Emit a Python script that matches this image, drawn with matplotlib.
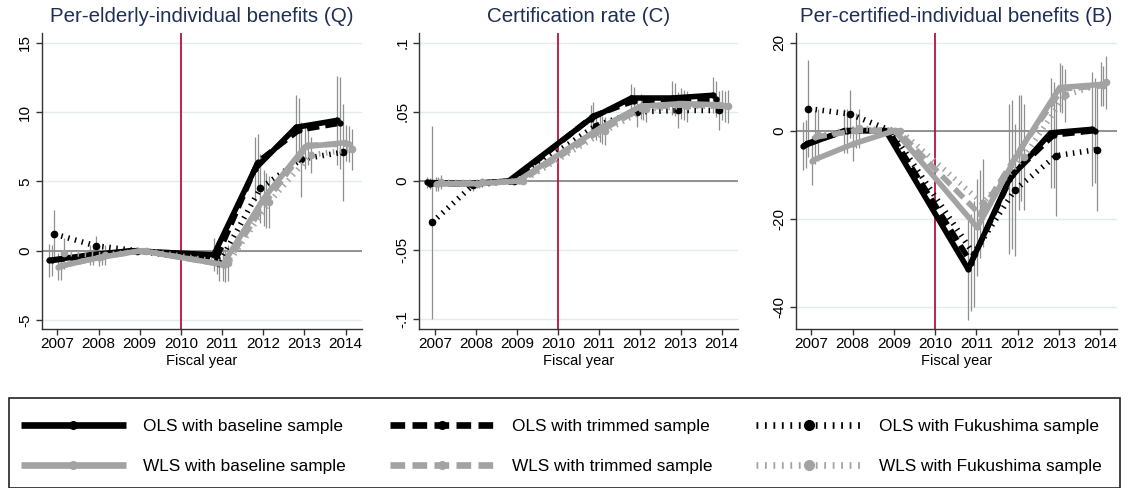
import matplotlib
matplotlib.use("Agg")
import matplotlib.pyplot as plt
from matplotlib.lines import Line2D
from matplotlib.patches import Rectangle

plt.rcParams['font.family'] = ['Liberation Sans', 'DejaVu Sans']

years = [2007, 2008, 2009, 2011, 2012, 2013, 2014]

# Per-elderly-individual benefits (Q): point estimates and 95% CI half-widths
q_ols_base = [-0.7, -0.3, 0, -0.3, 5.9, 8.9, 9.4]
q_ols_trim = [-0.7, -0.35, 0, -0.5, 6.4, 8.7, 9.2]
q_ols_fuku = [1.2, 0.35, 0, -0.9, 4.5, 6.6, 7.1]
q_wls_base = [-1.15, -0.5, 0, -1.0, 3.8, 7.5, 7.8]
q_wls_trim = [-1.1, -0.45, 0, -1.05, 3.6, 7.6, 7.7]
q_wls_fuku = [-0.2, -0.3, 0, -0.9, 3.5, 6.9, 7.3]
q_ols_base_ci = [1.2, 0.7, 0, 1.2, 2.3, 2.3, 3.2]
q_ols_trim_ci = [1.1, 0.7, 0, 1.2, 2.0, 2.3, 3.3]
q_ols_fuku_ci = [1.7, 0.7, 0, 1.3, 2.5, 2.7, 3.5]
q_wls_base_ci = [1.0, 0.6, 0, 1.2, 2.0, 1.6, 1.3]
q_wls_trim_ci = [1.0, 0.6, 0, 1.2, 2.0, 1.4, 1.3]
q_wls_fuku_ci = [1.1, 0.7, 0, 1.3, 1.9, 1.3, 1.5]

# Certification rate (C)
c_ols_base = [-0.001, -0.002, 0, 0.045, 0.060, 0.060, 0.062]
c_ols_trim = [-0.002, -0.002, 0, 0.047, 0.058, 0.059, 0.059]
c_ols_fuku = [-0.030, -0.003, 0, 0.040, 0.050, 0.051, 0.051]
c_wls_base = [-0.002, -0.002, 0, 0.038, 0.054, 0.056, 0.055]
c_wls_trim = [-0.002, -0.002, 0, 0.037, 0.053, 0.055, 0.054]
c_wls_fuku = [-0.001, -0.001, 0, 0.036, 0.052, 0.054, 0.054]
c_ols_base_ci = [0.004, 0.003, 0, 0.010, 0.010, 0.012, 0.013]
c_ols_trim_ci = [0.004, 0.003, 0, 0.010, 0.010, 0.012, 0.013]
c_ols_fuku_ci = [0.070, 0.004, 0, 0.010, 0.011, 0.013, 0.014]
c_wls_base_ci = [0.005, 0.003, 0, 0.010, 0.009, 0.011, 0.011]
c_wls_trim_ci = [0.005, 0.003, 0, 0.010, 0.009, 0.011, 0.011]
c_wls_fuku_ci = [0.005, 0.003, 0, 0.010, 0.009, 0.011, 0.012]

# Per-certified-individual benefits (B)
b_ols_base = [-3.5, 0, 0, -31.5, -11, -0.5, 0.3]
b_ols_trim = [-3.0, 0, 0, -30, -10, -1.0, 0]
b_ols_fuku = [5.0, 3.8, 0, -28, -13.5, -5.7, -4.3]
b_wls_base = [-6.8, -3.0, 0, -22, -5, 9.8, 10.5]
b_wls_trim = [-1.5, 0, 0, -19, -4, 9.5, 10.2]
b_wls_fuku = [-1.0, 0.5, 0, -16.5, -6, 8.0, 11.0]
b_ols_base_ci = [5.5, 5.0, 0, 11.5, 17, 12.5, 13]
b_ols_trim_ci = [5.5, 5.0, 0, 11.0, 17, 12.0, 12]
b_ols_fuku_ci = [11, 5.5, 0, 12.0, 15, 13.8, 14]
b_wls_base_ci = [5.5, 4.0, 0, 11.0, 13, 5.5, 5.0]
b_wls_trim_ci = [6.0, 4.0, 0, 10.0, 12, 5.5, 4.5]
b_wls_fuku_ci = [6.0, 4.5, 0, 10.0, 12, 6.0, 6.0]

labels = ["OLS with baseline sample", "OLS with trimmed sample", "OLS with Fukushima sample",
          "WLS with baseline sample", "WLS with trimmed sample", "WLS with Fukushima sample"]

BLACK = "#000000"
GRAY = "#a3a3a3"
NAVY = "#1e2f55"
RED = "#b8123a"
GRID = "#e2ecec"
SPIKE = "#8f8f8f"

# style per series: color, dashes, marker size, x offset
styles = [
    (BLACK, None, 3.5, -0.20),
    (BLACK, (2.2, 1.1), 3.5, -0.13),
    (BLACK, (0.27, 1.0), 4.5, -0.07),
    (GRAY, None, 3.5, 0.02),
    (GRAY, (2.2, 1.1), 3.5, 0.08),
    (GRAY, (0.27, 1.0), 4.5, 0.15),
]

panels = [
    ("Per-elderly-individual benefits (Q)",
     [q_ols_base, q_ols_trim, q_ols_fuku, q_wls_base, q_wls_trim, q_wls_fuku],
     [q_ols_base_ci, q_ols_trim_ci, q_ols_fuku_ci, q_wls_base_ci, q_wls_trim_ci, q_wls_fuku_ci],
     [15, 10, 5, 0, -5], ["15", "10", "5", "0", "-5"], (-5.65, 15.7)),
    ("Certification rate (C)",
     [c_ols_base, c_ols_trim, c_ols_fuku, c_wls_base, c_wls_trim, c_wls_fuku],
     [c_ols_base_ci, c_ols_trim_ci, c_ols_fuku_ci, c_wls_base_ci, c_wls_trim_ci, c_wls_fuku_ci],
     [0.1, 0.05, 0, -0.05, -0.1], [".1", ".05", "0", "-.05", "-.1"], (-0.107, 0.107)),
    ("Per-certified-individual benefits (B)",
     [b_ols_base, b_ols_trim, b_ols_fuku, b_wls_base, b_wls_trim, b_wls_fuku],
     [b_ols_base_ci, b_ols_trim_ci, b_ols_fuku_ci, b_wls_base_ci, b_wls_trim_ci, b_wls_fuku_ci],
     [20, 0, -20, -40], ["20", "0", "-20", "-40"], (-45.1, 22.2)),
]

W, H = 1133, 488
fig = plt.figure(figsize=(W / 100, H / 100), dpi=100)
fig.patch.set_facecolor("white")

lefts = [41.7, 419.3, 795.7]
rights = [362, 738, 1116.7]
top_px, bot_px = 33, 329

for i, (title, series, cis, yt, ytl, ylim) in enumerate(panels):
    ax = fig.add_axes([lefts[i] / W, 1 - bot_px / H, (rights[i] - lefts[i]) / W, (bot_px - top_px) / H])
    for s in ["top", "right"]:
        ax.spines[s].set_visible(False)
    for s in ["left", "bottom"]:
        ax.spines[s].set_color("#333333")
        ax.spines[s].set_linewidth(1.0)

    for y in yt:
        ax.axhline(y, color=GRID, lw=1.0, zorder=0)
    ax.axhline(0, color="#8a8a8a", lw=1.3, zorder=1)
    ax.axvline(2010, color=RED, lw=1.3, zorder=1)

    for vals, ci, (col, dash, ms, off) in zip(series, cis, styles):
        xs = [yr + off for yr in years]
        lo = [v - c for v, c in zip(vals, ci)]
        hi = [v + c for v, c in zip(vals, ci)]
        ax.vlines(xs, lo, hi, color=SPIKE, lw=0.9, zorder=2)
    for vals, (col, dash, ms, off) in zip(series, styles):
        xs = [yr + off for yr in years]
        ln, = ax.plot(xs, vals, color=col, lw=4, marker="o", ms=ms, zorder=3,
                      solid_capstyle="butt", dash_capstyle="butt")
        if dash is not None:
            ln.set_dashes(dash)

    ax.set_xlim(2006.62, 2014.4)
    ax.set_ylim(*ylim)
    ax.set_xticks(range(2007, 2015))
    ax.set_yticks(yt)
    ax.set_yticklabels(ytl)
    ax.tick_params(axis="both", direction="out", length=4, width=1, color="#333333", labelsize=11)
    ax.tick_params(axis="x", pad=2)
    ax.tick_params(axis="y", pad=3, labelrotation=90)
    for lbl in ax.get_yticklabels():
        lbl.set_va("center")
    ax.set_xlabel("Fiscal year", fontsize=10.5, labelpad=2)
    fig.text((lefts[i] + rights[i]) / 2 / W, 1 - 16 / H, title, ha="center", va="center",
             fontsize=14.8, color=NAVY)

# legend
fig.patches.append(Rectangle((8.5 / W, 0.5 / H), (1120 - 8.5) / W, (488 - 398 - 0.5) / H,
                             transform=fig.transFigure, fill=False, edgecolor="#222222", lw=1.2))

handles = []
for col, dash, ms, off in styles:
    h = Line2D([], [], color=col, lw=4.8, marker="o", ms=7 if ms > 4 else 5.5,
               solid_capstyle="butt", dash_capstyle="butt")
    if dash is not None:
        h.set_dashes(dash)
    handles.append(h)

order = [0, 3, 1, 4, 2, 5]
fig.legend([handles[k] for k in order], [labels[k] for k in order], ncol=3,
           loc="center", bbox_to_anchor=(561 / W, 1 - 446.5 / H), frameon=False,
           fontsize=12.4, handlelength=6.1, handletextpad=1.0, columnspacing=2.55,
           labelspacing=1.5, numpoints=1)

fig.savefig("out.png", dpi=100, facecolor="white")
